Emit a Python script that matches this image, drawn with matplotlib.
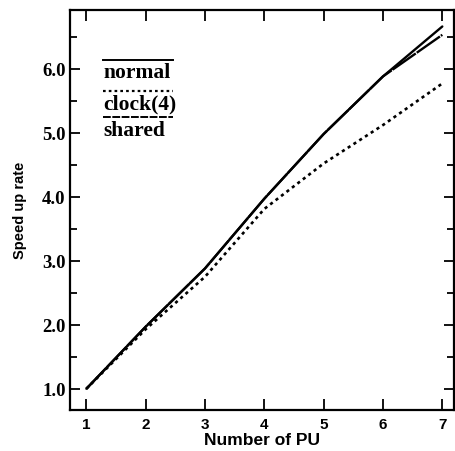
import matplotlib.pyplot as plt
from matplotlib.ticker import MultipleLocator
from matplotlib.lines import Line2D

# number of processing units
pu = [1, 2, 3, 4, 5, 6, 7]

# speed up rate
normal = [1.0, 1.97, 2.88, 3.97, 4.98, 5.88, 6.66]
clock4 = [1.0, 1.93, 2.75, 3.81, 4.52, 5.12, 5.77]
shared = [1.0, 1.97, 2.88, 3.97, 4.98, 5.88, 6.53]

legend_names = ['normal', 'clock(4)', 'shared']

fig = plt.figure(figsize=(4.56, 4.52), dpi=100)
ax = fig.add_axes([0.153, 0.091, 0.843, 0.885])

ax.plot(pu, normal, color='black', lw=1.7, solid_capstyle='round')
ax.plot(pu, clock4, color='black', lw=1.9, linestyle=(0, (1.2, 1.4)))
ax.plot(pu, shared, color='black', lw=1.7, linestyle=(0, (12, 0.5)))

ax.set_xlim(0.72, 7.2)
ax.set_ylim(0.67, 6.92)
ax.xaxis.set_major_locator(MultipleLocator(1))
ax.yaxis.set_major_locator(MultipleLocator(1))
ax.yaxis.set_minor_locator(MultipleLocator(0.5))
ax.set_yticks([1, 2, 3, 4, 5, 6])
ax.set_yticklabels(['1.0', '2.0', '3.0', '4.0', '5.0', '6.0'],
                   family='Liberation Serif', fontweight='bold', fontsize=13.5)
ax.set_xticks(pu)
ax.set_xticklabels([str(v) for v in pu], family='Liberation Sans',
                   fontweight='bold', fontsize=11)

ax.tick_params(which='both', direction='in', top=True, right=True, width=1.3)
ax.tick_params(which='major', length=8)
ax.tick_params(which='minor', length=6)
ax.tick_params(axis='x', which='major', pad=5)
ax.tick_params(axis='y', which='both', right=True, length=5)
ax.tick_params(axis='y', which='major', left=True, length=7, pad=3)

for s in ax.spines.values():
    s.set_linewidth(1.6)

ax.set_xlabel('Number of PU', family='Liberation Sans', fontweight='heavy',
              fontsize=12.5, labelpad=1)
ax.set_ylabel('Speed up rate', family='Liberation Sans', fontweight='heavy',
              fontsize=10.5, labelpad=11)

# legend: names with their line style drawn above each word
styles = [dict(lw=1.4), dict(lw=1.6, linestyle=(0, (1.2, 1.4))),
          dict(lw=1.4, linestyle=(0, (4, 0.8)))]
tops = [0.875, 0.798, 0.731]
for name, st, yt in zip(legend_names, styles, tops):
    ax.add_line(Line2D([0.087, 0.268], [yt, yt], transform=ax.transAxes,
                       color='black', **st))
    ax.text(0.087, yt - 0.006, name, transform=ax.transAxes, va='top',
            ha='left', family='Liberation Serif', fontweight='bold', fontsize=15.5)

fig.savefig('out.png', dpi=100)
